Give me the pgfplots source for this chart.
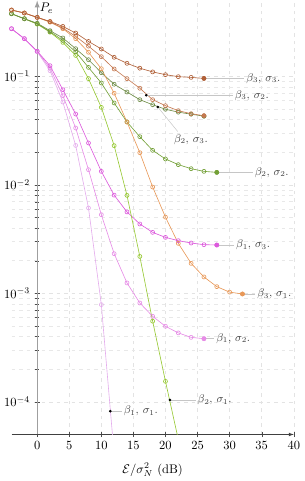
\documentclass[border=0pt]{standalone}
\usepackage{pgfplots}
\pgfplotsset{compat=1.18}
\definecolor{b3s3}{RGB}{176,96,56}
\definecolor{b3s2}{RGB}{196,120,80}
\definecolor{b3s1}{RGB}{232,152,88}
\definecolor{b2s3}{RGB}{110,140,70}
\definecolor{b2s2}{RGB}{115,160,55}
\definecolor{b2s1}{RGB}{150,200,50}
\definecolor{b1s3}{RGB}{220,90,220}
\definecolor{b1s2}{RGB}{230,140,230}
\definecolor{b1s1}{RGB}{228,172,236}
\begin{document}
\begin{tikzpicture}
\begin{axis}[
  scale only axis, width=225.7pt, height=347pt,
  xmin=-4, xmax=40, ymin=5e-5, ymax=0.5,
  ymode=log,
  axis x line=bottom, axis y line=middle,
  xtick={0,5,...,40},
  ytick={1e-4,1e-3,1e-2,1e-1},
  grid=both,
  major grid style={dashed, gray!22},
  minor grid style={dashed, gray!18},
  x axis line style={-latex, black!75},
  y axis line style={-latex, gray!75, line width=0.9pt},
  tick style={black!70},
  xlabel={$\mathcal{E}/\sigma_N^2$ (dB)},
  xlabel style={yshift=-4pt},
  every axis plot/.append style={line width=0.5pt, mark=o, mark size=1.6pt, mark options={fill=white}},
  clip=true,
]
% beta1
\addplot[b1s1] coordinates {(-4,0.275)(-2,0.2226)(0,0.169)(2,0.1129)(4,0.0581)(6,0.0231)(8,0.00612)(10,0.000787)(12,3.26e-5)};
\addplot[b1s2] coordinates {(-4,0.275)(-2,0.2226)(0,0.170)(2,0.119)(4,0.0664)(6,0.03345)(8,0.0138)(10,0.00531)(12,0.00232)(14,0.001247)(16,0.000815)(18,0.000614)(20,0.000497)(22,0.000432)(24,0.000393)(26,0.000382)};
\addplot[b1s3] coordinates {(-4,0.275)(-2,0.2226)(0,0.1707)(2,0.1255)(4,0.0754)(6,0.0450)(8,0.02433)(10,0.01332)(12,0.00804)(14,0.00563)(16,0.00436)(18,0.00365)(20,0.00328)(22,0.00306)(24,0.00291)(26,0.00281)(28,0.00279)};
% beta2
\addplot[b2s1] coordinates {(-4,0.378)(-2,0.340)(0,0.303)(2,0.2555)(4,0.2058)(6,0.1561)(8,0.0953)(10,0.0518)(12,0.02298)(14,0.0080)(16,0.00219)(18,0.000554)(20,0.0001545)(22,4.5e-5)};
\addplot[b2s2] coordinates {(-4,0.378)(-2,0.340)(0,0.306)(2,0.258)(4,0.2147)(6,0.168)(8,0.121)(10,0.0869)(12,0.0569)(14,0.0380)(16,0.0278)(18,0.0208)(20,0.01733)(22,0.01536)(24,0.01410)(26,0.01332)(28,0.01304)};
\addplot[b2s3] coordinates {(-4,0.378)(-2,0.340)(0,0.309)(2,0.264)(4,0.226)(6,0.180)(8,0.1425)(10,0.1082)(12,0.0847)(14,0.0718)(16,0.0610)(18,0.0548)(20,0.0498)(22,0.0468)(24,0.0448)(26,0.0430)};
% beta3
\addplot[b3s1] coordinates {(-4,0.409)(-2,0.384)(0,0.350)(2,0.316)(4,0.275)(6,0.2226)(8,0.167)(10,0.1177)(12,0.0700)(14,0.0380)(16,0.0198)(18,0.00956)(20,0.00504)(22,0.00289)(24,0.00189)(26,0.001416)(28,0.001153)(30,0.001026)(32,0.000987)};
\addplot[b3s2] coordinates {(-4,0.409)(-2,0.384)(0,0.350)(2,0.319)(4,0.279)(6,0.234)(8,0.190)(10,0.152)(12,0.117)(14,0.0953)(16,0.0778)(18,0.0610)(20,0.0537)(22,0.0483)(24,0.0453)(26,0.0434)};
\addplot[b3s3] coordinates {(-4,0.409)(-2,0.384)(0,0.350)(2,0.321)(4,0.289)(6,0.251)(8,0.210)(10,0.179)(12,0.150)(14,0.132)(16,0.119)(18,0.110)(20,0.1037)(22,0.0994)(24,0.0979)(26,0.0958)};
% filled end points
\addplot[b1s2, mark=*, only marks, mark options={fill=b1s2}] coordinates {(26,0.000382)};
\addplot[b1s3, mark=*, only marks, mark options={fill=b1s3}] coordinates {(28,0.00279)};
\addplot[b2s2, mark=*, only marks, mark options={fill=b2s2}] coordinates {(28,0.01304)};
\addplot[b2s3, mark=*, only marks, mark options={fill=b2s3}] coordinates {(26,0.0430)};
\addplot[b3s1, mark=*, only marks, mark options={fill=b3s1}] coordinates {(32,0.000987)};
\addplot[b3s2, mark=*, only marks, mark options={fill=b3s2}] coordinates {(26,0.0434)};
\addplot[b3s3, mark=*, only marks, mark options={fill=b3s3}] coordinates {(26,0.0958)};
% label anchor dots
\addplot[black, mark=*, mark size=0.8pt, only marks, mark options={fill=black}] coordinates {(17,0.067)(18.8,0.0522)(20.7,1.04e-4)(11.4,8.2e-5)};
% label lines
\begin{scope}[every node/.style={font=\small, text=black!75, inner sep=1.5pt}]
\draw[gray!45] (axis cs:26,0.0958) -- (axis cs:32.3,0.0958) node[right] {$\beta_3$, $\sigma_3$.};
\draw[gray!45] (axis cs:17,0.067) -- (axis cs:30.5,0.067) node[right] {$\beta_3$, $\sigma_2$.};
\draw[gray!45] (axis cs:18.8,0.0522) -- (axis cs:21.9,0.0311);
\node[anchor=north west, font=\small, text=black!75] at (axis cs:21.0,0.0305) {$\beta_2$, $\sigma_3$.};
\draw[gray!45] (axis cs:28,0.01304) -- (axis cs:33.6,0.01304) node[right] {$\beta_2$, $\sigma_2$.};
\draw[gray!45] (axis cs:28,0.00279) -- (axis cs:30.7,0.00279) node[right] {$\beta_1$, $\sigma_3$.};
\draw[gray!45] (axis cs:32,0.000987) -- (axis cs:34,0.000987) node[right] {$\beta_3$, $\sigma_1$.};
\draw[gray!45] (axis cs:26,0.000382) -- (axis cs:27.6,0.000382) node[right] {$\beta_1$, $\sigma_2$.};
\draw[gray!45] (axis cs:20.7,1.04e-4) -- (axis cs:24.7,1.04e-4) node[right] {$\beta_2$, $\sigma_1$.};
\draw[gray!45] (axis cs:11.4,8.2e-5) -- (axis cs:13.2,8.2e-5) node[right] {$\beta_1$, $\sigma_1$.};
\end{scope}
\node[anchor=north west, inner sep=2pt] at (axis cs:0,0.5) {$P_e$};
\end{axis}
\end{tikzpicture}
\end{document}
